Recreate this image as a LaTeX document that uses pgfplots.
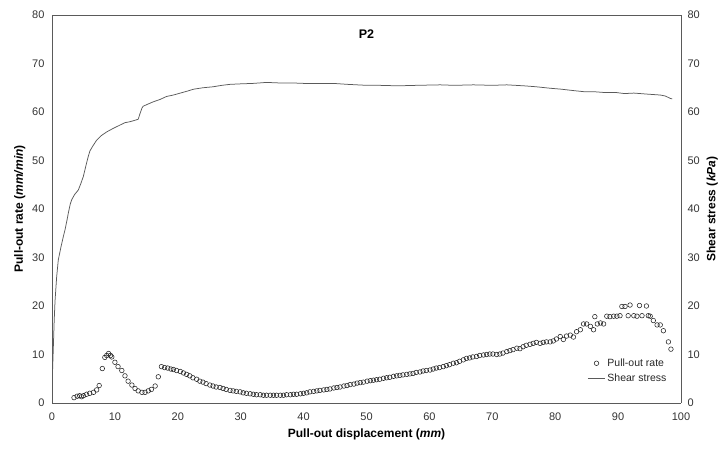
\documentclass[border=0pt]{standalone}
\usepackage{fontspec}
\setmainfont{Liberation Sans}
\usepackage{pgfplots}
\pgfplotsset{compat=1.18}
\definecolor{shearc}{RGB}{90,90,90}
\definecolor{framec}{RGB}{90,90,90}
\definecolor{markc}{RGB}{35,35,35}
\begin{document}
\begin{tikzpicture}[x=1pt,y=1pt]
\useasboundingbox (0,0) rectangle (718,452);
\pgfplotsset{
  common/.style={
    at={(52pt,49pt)}, anchor=south west,
    width=629pt, height=388pt, scale only axis,
    xmin=0, xmax=100, ymin=0, ymax=80,
    xtick={0,10,...,100}, ytick={0,10,...,80},
    major tick length=0pt,
    tick label style={font=\fontsize{11}{13}\selectfont, text=black!80},
    /pgf/number format/assume math mode=true,
    label style={font=\fontsize{12}{14}\selectfont\bfseries},
    axis line style={framec, line width=0.6pt},
  }
}
\begin{axis}[common,
  axis y line*=left, axis x line*=box,
  xlabel={Pull-out displacement (\textit{mm})},
  ylabel={Pull-out rate (\textit{mm/min})},
  xticklabel style={yshift=-6pt},
  yticklabel style={xshift=-4pt},
  xlabel style={yshift=-2pt},
  title={\textbf{P2}},
  title style={at={(0.5,0.935)}, anchor=center, font=\fontsize{12.5}{14}\selectfont\bfseries},
  legend style={draw=none, fill=none, at={(0.985,0.125)}, anchor=north east,
    font=\fontsize{10.5}{13}\selectfont, row sep=2pt, text=black!85},
  legend cell align=left,
]
\addplot[only marks, mark=o, mark size=2.3pt, mark options={markc, line width=0.55pt}] coordinates {
(3.5,1.1) (4.0,1.4) (4.4,1.5) (4.7,1.3) (5.0,1.5) (5.5,1.8) (6.0,2.0) (6.6,2.2) (7.1,2.7) (7.5,3.6)
(8.0,7.1) (8.4,9.4) (8.7,9.8) (9.0,10.2) (9.3,9.8) (9.5,9.5) (10.0,8.4) (10.5,7.5) (11.1,6.7) (11.6,5.6)
(12.1,4.5) (12.7,3.7) (13.2,3.0) (13.7,2.5) (14.3,2.2) (14.8,2.2) (15.3,2.5) (15.8,2.8) (16.4,3.5) (16.9,5.4)
(17.4,7.5) (17.9,7.3) (18.4,7.2) (18.9,7.0) (19.3,6.9) (19.8,6.7) (20.4,6.5) (20.9,6.2) (21.4,5.9) (21.9,5.6)
(22.4,5.2) (23.0,4.9) (23.5,4.5) (24.0,4.3) (24.5,4.0) (25.1,3.7) (25.6,3.5) (26.1,3.3) (26.7,3.2) (27.2,3.0)
(27.7,2.8) (28.3,2.6) (28.8,2.5) (29.3,2.4) (29.9,2.3) (30.4,2.1) (30.9,2.0) (31.5,1.9) (32.0,1.8) (32.5,1.7)
(33.1,1.7) (33.6,1.6) (34.1,1.6) (34.7,1.6) (35.2,1.6) (35.7,1.6) (36.3,1.6) (36.8,1.6) (37.3,1.7) (37.9,1.7)
(38.4,1.8) (38.9,1.8) (39.5,1.9) (40.0,2.0) (40.5,2.1) (41.0,2.3) (41.6,2.4) (42.1,2.5) (42.6,2.6) (43.2,2.7)
(43.7,2.8) (44.2,2.9) (44.8,3.1) (45.3,3.2) (45.8,3.3) (46.4,3.5) (46.9,3.6) (47.4,3.8) (48.0,3.9) (48.5,4.1)
(49.0,4.2) (49.5,4.3) (50.1,4.5) (50.6,4.6) (51.1,4.7) (51.6,4.8) (52.1,4.9) (52.7,5.1) (53.2,5.2) (53.7,5.3)
(54.3,5.5) (54.8,5.6) (55.3,5.7) (55.8,5.8) (56.4,5.9) (56.9,6.0) (57.4,6.1) (57.9,6.3) (58.5,6.4) (59.0,6.6)
(59.5,6.7) (60.1,6.8) (60.6,7.0) (61.1,7.2) (61.6,7.3) (62.2,7.5) (62.7,7.7) (63.2,7.9) (63.8,8.2) (64.3,8.3)
(64.8,8.6) (65.4,8.9) (65.9,9.2) (66.4,9.3) (66.9,9.5) (67.5,9.6) (68.0,9.8) (68.6,9.9) (69.1,10.0) (69.6,10.1)
(70.1,10.1) (70.7,10.0) (71.2,10.1) (71.7,10.3) (72.3,10.6) (72.8,10.8) (73.3,11.0) (73.9,11.3) (74.4,11.2) (74.9,11.6)
(75.4,11.9) (76.0,12.1) (76.5,12.3) (77.0,12.5) (77.6,12.3) (78.1,12.5) (78.6,12.6) (79.2,12.6) (79.7,12.8) (80.2,13.2)
(80.8,13.7) (81.3,13.1) (81.8,13.8) (82.4,14.0) (82.9,13.6) (83.4,14.7) (84.0,15.1) (84.5,16.3) (85.0,16.3) (85.6,15.8)
(86.1,15.1) (86.3,17.8) (86.7,16.3) (87.2,16.5) (87.7,16.3) (88.2,17.9) (88.7,17.8) (89.3,17.9) (89.8,17.9) (90.3,18.0)
(90.6,19.9) (91.1,19.9) (91.6,18.0) (91.9,20.2) (92.5,18.0) (93.0,17.9) (93.4,20.1) (93.8,18.0) (94.5,20.0) (94.8,18.0)
(95.1,17.9) (95.6,17.0) (96.2,16.1) (96.7,16.1) (97.2,14.9) (98.0,12.6) (98.4,11.1)
};
\addlegendentry{Pull-out rate}
\addplot[shearc, line width=0.75pt, mark=none] coordinates {
(0,1) (0.05,5) (0.2,11) (0.35,17) (0.48,21) (0.74,26) (1.0,29.5) (1.43,32.2) (1.8,34.3) (2.07,35.7)
(2.4,37.8) (2.6,39.2) (2.9,41) (3.13,41.9) (3.6,43.0) (4.18,43.9) (4.6,45.3) (4.98,46.7) (5.5,49.5) (5.8,51)
(6.04,52.0) (6.5,53.0) (7.1,54.2) (7.8,55.1) (8.7,55.9) (9.7,56.6) (10.8,57.3) (11.6,57.8) (12.4,58.0) (13.2,58.3)
(13.7,58.5) (14.0,59.7) (14.3,60.8) (14.5,61.2) (15.2,61.6) (16.1,62.1) (17.2,62.6) (18.2,63.2) (19.3,63.5) (20.4,63.9)
(21.5,64.3) (22.5,64.7) (24,65.0) (25.6,65.2) (27,65.5) (28.3,65.7) (29.9,65.8) (32,65.9) (34.1,66.1) (36,66.0)
(38,66.0) (40,65.9) (42,65.9) (44.7,65.9) (47,65.7) (50.0,65.5) (52,65.5) (55,65.4) (58,65.5) (61.7,65.6)
(64,65.5) (67,65.6) (70,65.5) (72.3,65.6) (75,65.4) (77,65.2) (79.2,64.9) (81,64.7) (83,64.4) (84.5,64.2)
(86,64.2) (88,64.0) (89.8,64.0) (91,63.8) (92.5,63.9) (94.5,63.7) (96.7,63.5) (97.5,63.3) (98.3,62.8) (98.6,62.7)
};
\addlegendentry{Shear stress}
\end{axis}
\begin{axis}[common,
  axis y line*=right, axis x line=none,
  ylabel={Shear stress (\textit{kPa})},
  yticklabel style={xshift=3pt},
]
\end{axis}
\end{tikzpicture}
\end{document}
